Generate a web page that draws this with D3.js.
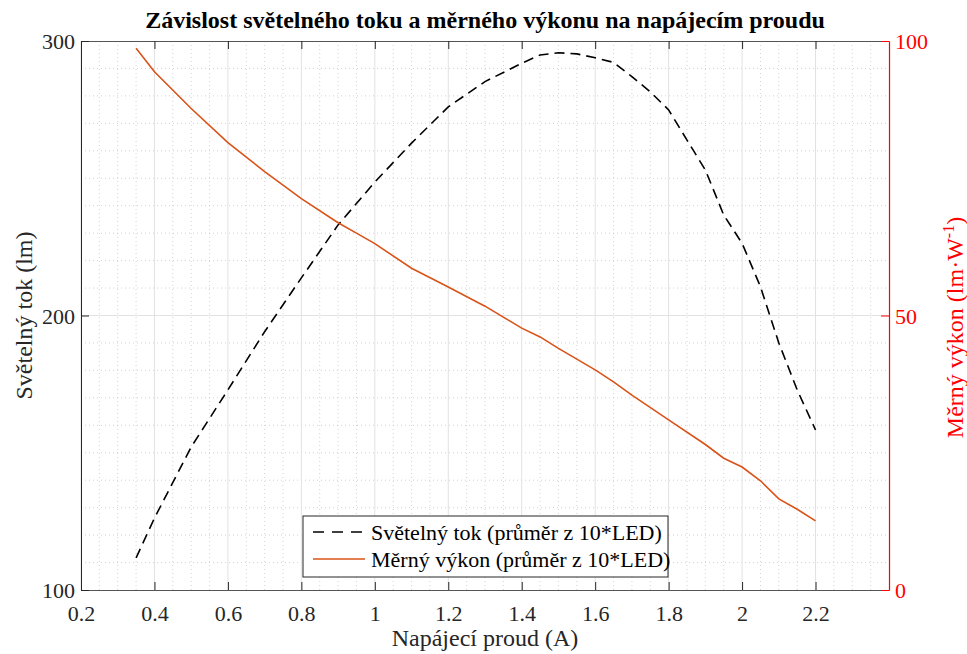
<!DOCTYPE html>
<html><head><meta charset="utf-8">
<script src="https://cdn.jsdelivr.net/npm/d3@7"></script>
<style>body{margin:0;background:#fff}svg{font-family:"Liberation Serif","Times New Roman",serif}</style>
</head><body><svg id="c" width="967" height="654"></svg>
<script>
const xTicks = [0.2,0.4,0.6,0.8,1,1.2,1.4,1.6,1.8,2,2.2];
const xTickLabels = ["0.2","0.4","0.6","0.8","1","1.2","1.4","1.6","1.8","2","2.2"];
const leftTicks = [100,200,300];
const rightTicks = [0,50,100];
const fluxX = [0.35,0.4,0.5,0.6,0.7,0.8,0.9,1.0,1.1,1.2,1.3,1.4,1.45,1.5,1.55,1.6,1.65,1.7,1.75,1.8,1.85,1.9,1.95,2.0,2.05,2.1,2.15,2.2];
const fluxY = [111.7,126.2,152.1,172.9,194.1,213.7,233.0,248.6,262.8,276.0,285.2,291.9,294.9,295.7,295.3,293.9,292.2,287.0,281.5,274.9,263.9,253.0,236.6,226.3,210.5,190.0,172.9,158.3];
const effX = [0.35,0.4,0.5,0.6,0.7,0.8,0.9,0.95,1.0,1.1,1.2,1.3,1.4,1.45,1.5,1.6,1.65,1.7,1.8,1.9,1.95,2.0,2.05,2.1,2.15,2.2];
const effY = [98.7,94.4,87.7,81.5,76.2,71.3,66.9,65.0,63.1,58.6,55.2,51.7,47.7,46.1,44.0,40.1,37.9,35.5,31.0,26.5,24.0,22.4,19.9,16.6,14.7,12.6];
const seriesNames = ["Světelný tok (průměr z 10*LED)","Měrný výkon (průměr z 10*LED)"];

const svg = d3.select("#c");
const L=81,R=889,T=41,B=590;
const x = d3.scaleLinear().domain([0.2,2.4]).range([L,R]);
const yL = d3.scaleLinear().domain([100,300]).range([B,T]);
const yR = d3.scaleLinear().domain([0,100]).range([B,T]);
const axisCol="#262626", red="#ff0000", orange="#D95319";
const tickFont="22px";

// minor grid
const g = svg.append("g");
d3.range(0.25,2.4,0.05).forEach(v=>{
  if (Math.abs(v*5-Math.round(v*5))<1e-6) return;
  g.append("line").attr("x1",x(v)).attr("x2",x(v)).attr("y1",T).attr("y2",B)
   .attr("stroke","#c8c8c8").attr("stroke-width",0.8).attr("stroke-dasharray","1,3");
});
d3.range(110,300,10).forEach(v=>{
  if (v%100===0) return;
  g.append("line").attr("x1",L).attr("x2",R).attr("y1",yL(v)).attr("y2",yL(v))
   .attr("stroke","#c8c8c8").attr("stroke-width",0.8).attr("stroke-dasharray","1,3");
});
// major grid
xTicks.forEach(v=>{ g.append("line").attr("x1",x(v)).attr("x2",x(v)).attr("y1",T).attr("y2",B).attr("stroke","#e2e2e2").attr("stroke-width",1);});
g.append("line").attr("x1",L).attr("x2",R).attr("y1",yL(200)).attr("y2",yL(200)).attr("stroke","#e2e2e2").attr("stroke-width",1);

// axes
const xb = svg.append("g").attr("transform",`translate(0,${B})`)
  .call(d3.axisBottom(x).tickValues(xTicks).tickFormat((d,i)=>xTickLabels[i]).tickSizeInner(-8).tickSizeOuter(0).tickPadding(15));
const xt = svg.append("g").attr("transform",`translate(0,${T})`)
  .call(d3.axisTop(x).tickValues(xTicks).tickFormat("").tickSizeInner(-8).tickSizeOuter(0));
const yl = svg.append("g").attr("transform",`translate(${L},0)`)
  .call(d3.axisLeft(yL).tickValues(leftTicks).tickSizeInner(-8).tickSizeOuter(0).tickPadding(6));
const yr = svg.append("g").attr("transform",`translate(${R},0)`)
  .call(d3.axisRight(yR).tickValues(rightTicks).tickSizeInner(-8).tickSizeOuter(0).tickPadding(6));
[xb,xt,yl].forEach(a=>{a.selectAll("path").attr("stroke",axisCol).attr("stroke-width",1);a.selectAll("line").attr("stroke",axisCol);
  a.selectAll("text").attr("fill",axisCol).style("font-size",tickFont).style("font-family","Liberation Serif");});
xb.selectAll("path").attr("stroke","#555");
xt.selectAll("path").attr("stroke","#555");
yr.selectAll("path").attr("stroke",red).attr("stroke-width",1.2);
yr.selectAll("line").attr("stroke",red);
yr.selectAll("text").attr("fill",red).style("font-size",tickFont).style("font-family","Liberation Serif");
yl.selectAll("text").attr("dy","0.35em");
yr.selectAll("text").attr("dy","0.35em");

// lines
const lineL = d3.line().x((d,i)=>x(fluxX[i])).y(d=>yL(d));
const lineR = d3.line().x((d,i)=>x(effX[i])).y(d=>yR(d));
svg.append("path").attr("d",lineL(fluxY)).attr("fill","none").attr("stroke","#000").attr("stroke-width",1.6).attr("stroke-dasharray","10,6");
svg.append("path").attr("d",lineR(effY)).attr("fill","none").attr("stroke",orange).attr("stroke-width",1.6);

// title & labels
svg.append("text").attr("x",(L+R)/2).attr("y",28).attr("text-anchor","middle").attr("font-weight","bold").style("font-size","24px").attr("fill","#000")
  .text("Závislost světelného toku a měrného výkonu na napájecím proudu");
svg.append("text").attr("x",(L+R)/2).attr("y",646).attr("text-anchor","middle").style("font-size","24px").attr("fill",axisCol).text("Napájecí proud (A)");
svg.append("text").attr("transform",`translate(32,${(T+B)/2}) rotate(-90)`).attr("text-anchor","middle").style("font-size","24px").attr("fill",axisCol).text("Světelný tok (lm)");
const rl = svg.append("text").attr("transform",`translate(963,${(T+B)/2+12}) rotate(-90)`).attr("text-anchor","middle").style("font-size","24px").attr("fill",red);
rl.append("tspan").text("Měrný výkon (lm·W");
rl.append("tspan").attr("dy","-9").style("font-size","16px").text("-1");
rl.append("tspan").attr("dy","9").text(")");

// legend
const lg = svg.append("g");
lg.append("rect").attr("x",303).attr("y",516).attr("width",365).attr("height",61).attr("fill","#fff").attr("stroke","#262626").attr("stroke-width",1);
lg.append("line").attr("x1",313).attr("x2",365).attr("y1",532).attr("y2",532).attr("stroke","#000").attr("stroke-width",1.6).attr("stroke-dasharray","11,8");
lg.append("line").attr("x1",313).attr("x2",365).attr("y1",559).attr("y2",559).attr("stroke",orange).attr("stroke-width",1.6);
lg.append("text").attr("x",371).attr("y",532).attr("dy","0.35em").style("font-size","22px").attr("fill","#000").text(seriesNames[0]);
lg.append("text").attr("x",371).attr("y",559).attr("dy","0.35em").style("font-size","22px").attr("fill","#000").text(seriesNames[1]);
</script></body></html>
